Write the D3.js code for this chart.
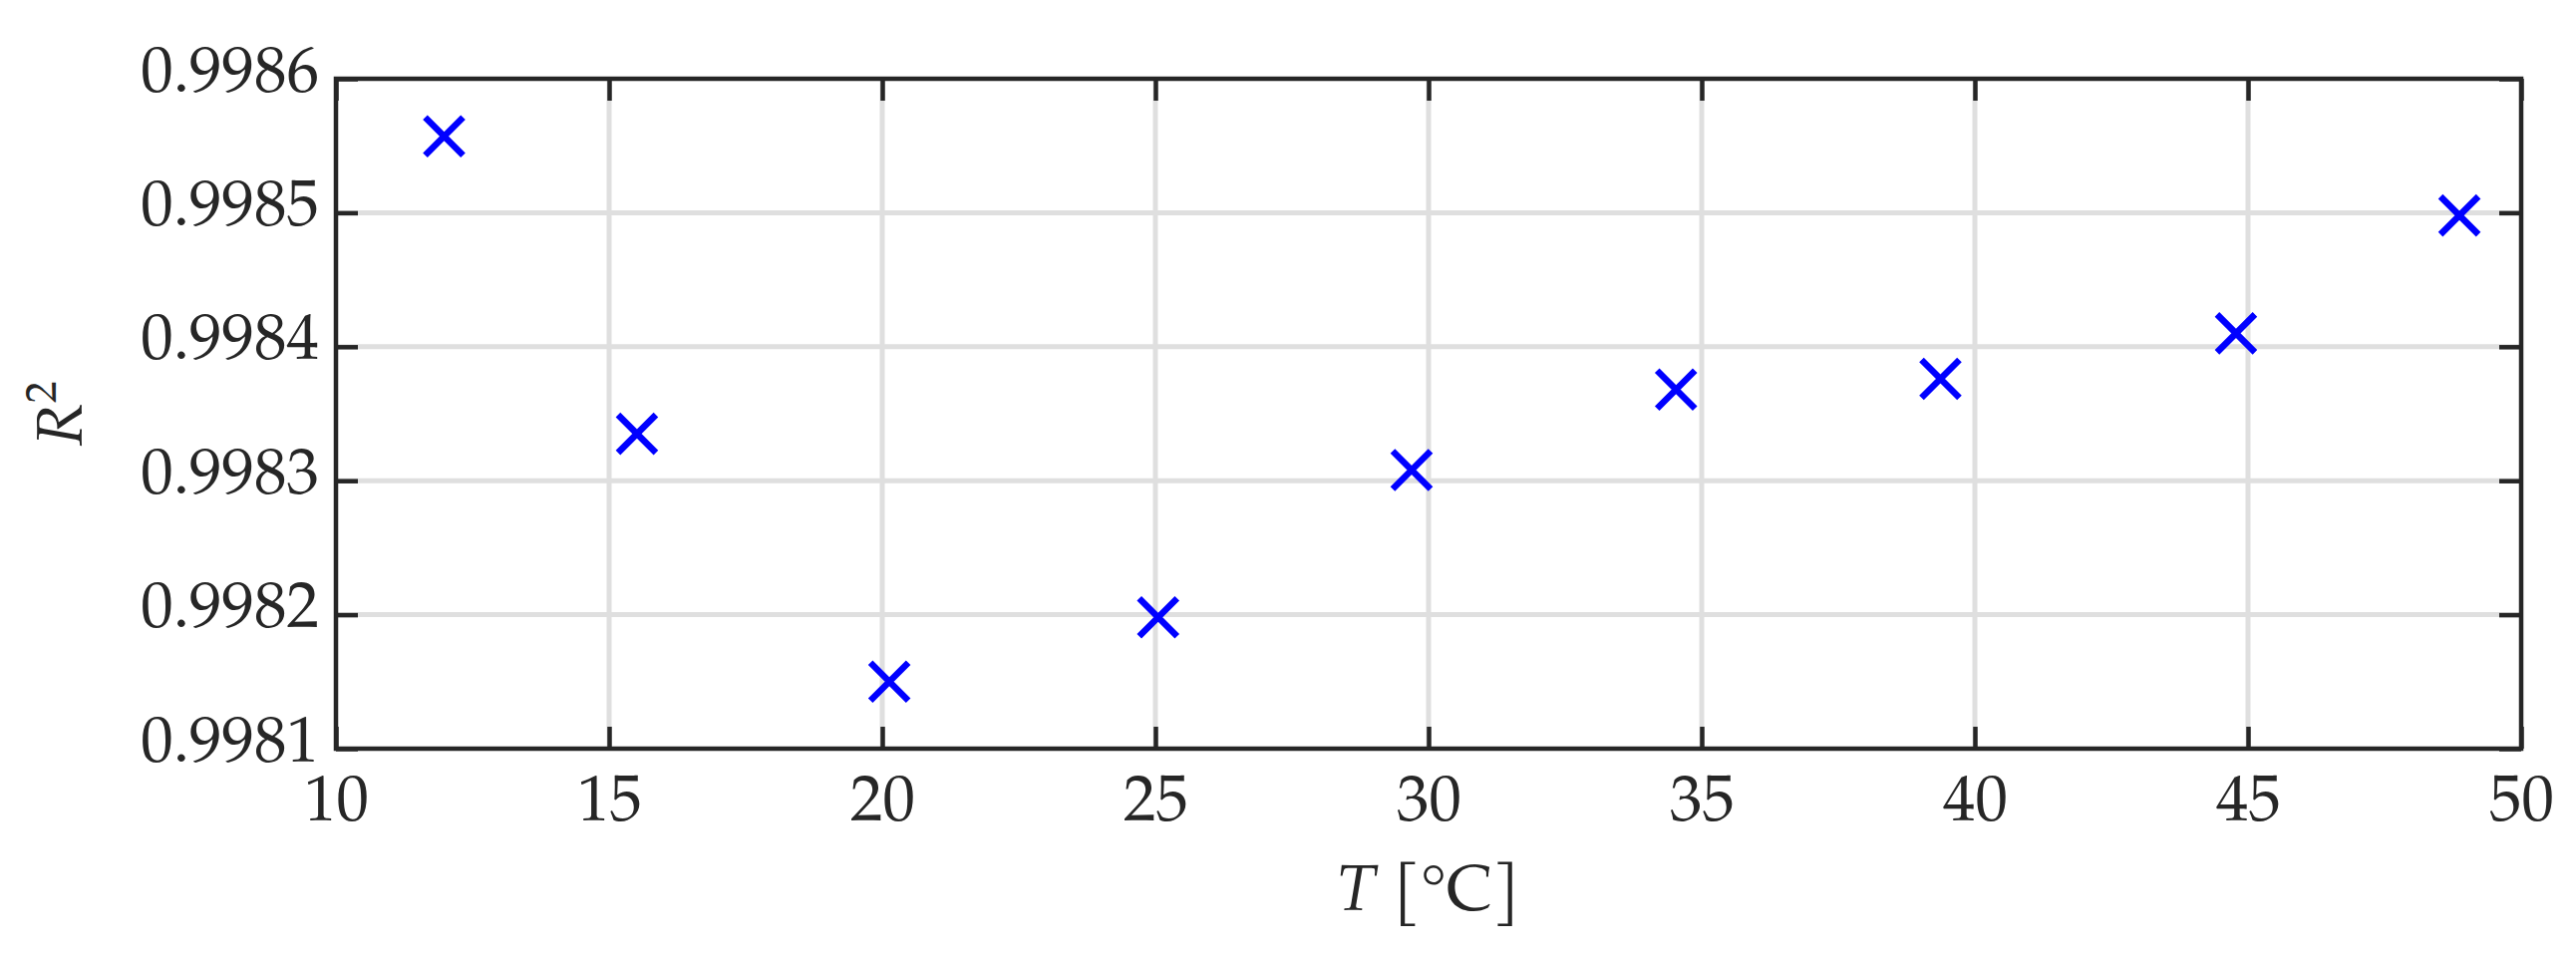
<!DOCTYPE html>
<html>
<head>
<meta charset="utf-8">
<script src="https://cdn.jsdelivr.net/npm/d3@7"></script>
<style>
  body { margin: 0; background: #fff; }
  svg text { font-family: "Palatino Linotype", "TeX Gyre Pagella", "Liberation Serif", serif; fill: #262626; }
</style>
</head>
<body>
<div class="svg-container"></div>
<script>
// measured temperature and coefficient of determination
const temps = [11.98, 15.51, 20.13, 25.05, 29.69, 34.53, 39.37, 44.78, 48.87];
const r2 = [0.998557, 0.998335, 0.998150, 0.998198, 0.998308, 0.998368, 0.998376, 0.998410, 0.998498];
const xTicks = [10, 15, 20, 25, 30, 35, 40, 45, 50];
const yTicks = [0.9981, 0.9982, 0.9983, 0.9984, 0.9985, 0.9986];

const width = 2584, height = 964;
const mLeft = 337, mRight = 2529, mTop = 79, mBottom = 751;
const ink = "#262626";

const svg = d3.select(".svg-container").append("svg")
    .attr("width", width)
    .attr("height", height);

const x = d3.scaleLinear().domain([10, 50]).range([mLeft, mRight]);
const y = d3.scaleLinear().domain([0.9981, 0.9986]).range([mBottom, mTop]);

// grid
svg.append("g").selectAll("line").data(xTicks.slice(1, -1)).enter().append("line")
    .attr("x1", d => x(d)).attr("x2", d => x(d))
    .attr("y1", mTop).attr("y2", mBottom)
    .attr("stroke", "#dfdfdf").attr("stroke-width", 5);
svg.append("g").selectAll("line").data(yTicks.slice(1, -1)).enter().append("line")
    .attr("x1", mLeft).attr("x2", mRight)
    .attr("y1", d => y(d)).attr("y2", d => y(d))
    .attr("stroke", "#dfdfdf").attr("stroke-width", 5);

// axes with inward ticks
function styleAxis(g) {
    g.select(".domain").remove();
    g.selectAll(".tick line").attr("stroke", ink).attr("stroke-width", 4.5);
    g.selectAll(".tick text").attr("font-size", 65).attr("fill", ink);
}

svg.append("g")
    .attr("transform", `translate(0,${mBottom})`)
    .call(d3.axisBottom(x).tickValues(xTicks).tickSize(-22).tickFormat(d3.format("d")))
    .call(styleAxis)
    .call(g => g.selectAll(".tick text").attr("y", 72).attr("dy", 0));

svg.append("g")
    .attr("transform", `translate(0,${mTop})`)
    .call(d3.axisTop(x).tickValues(xTicks).tickSize(-22).tickFormat(""))
    .call(styleAxis);

svg.append("g")
    .attr("transform", `translate(${mLeft},0)`)
    .call(d3.axisLeft(y).tickValues(yTicks).tickSize(-22).tickFormat(d3.format(".4f")))
    .call(styleAxis)
    .call(g => g.selectAll(".tick text").attr("x", -17).attr("dy", 12));

svg.append("g")
    .attr("transform", `translate(${mRight},0)`)
    .call(d3.axisRight(y).tickValues(yTicks).tickSize(-22).tickFormat(""))
    .call(styleAxis);

// box
svg.append("rect")
    .attr("x", mLeft).attr("y", mTop)
    .attr("width", mRight - mLeft).attr("height", mBottom - mTop)
    .attr("fill", "none").attr("stroke", ink).attr("stroke-width", 4.5);

// x markers
const s = 19;
svg.append("g").selectAll("path").data(temps).enter().append("path")
    .attr("d", (d, i) => {
        const cx = x(d), cy = y(r2[i]);
        return `M${cx - s},${cy - s}L${cx + s},${cy + s}M${cx - s},${cy + s}L${cx + s},${cy - s}`;
    })
    .attr("stroke", "#0000ff").attr("stroke-width", 6.5).attr("fill", "none");

// axis titles
const xt = svg.append("text")
    .attr("x", (mLeft + mRight) / 2).attr("y", 913)
    .attr("text-anchor", "middle").attr("font-size", 65);
xt.append("tspan").attr("font-style", "italic").text("T");
xt.append("tspan").text(" [°C]");

const yt = svg.append("text")
    .attr("transform", `translate(82,${(mTop + mBottom) / 2}) rotate(-90)`)
    .attr("text-anchor", "middle").attr("font-size", 65);
yt.append("tspan").attr("font-style", "italic").text("R");
yt.append("tspan").attr("font-size", 44).attr("dy", -26).text("2");
</script>
</body>
</html>
